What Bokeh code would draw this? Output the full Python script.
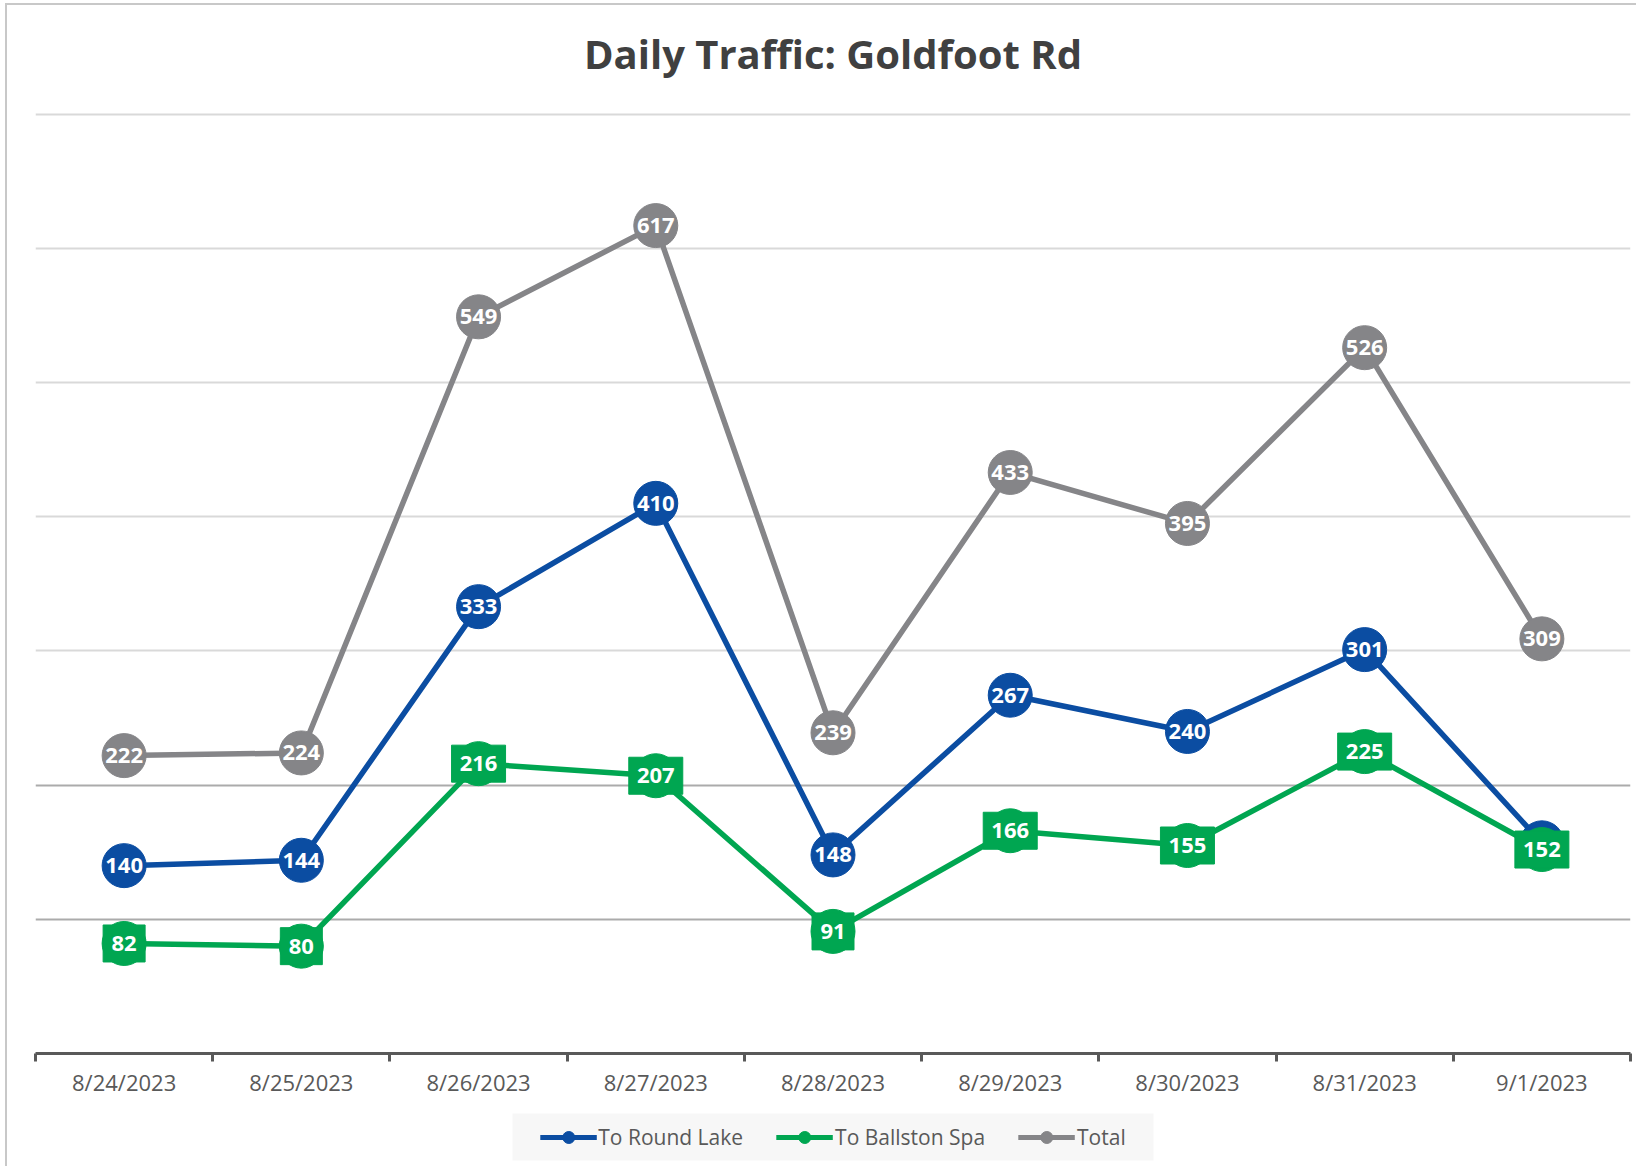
from bokeh.plotting import figure
from bokeh.layouts import column
from bokeh.models import (Range1d, FixedTicker, Grid, Legend, LegendItem,
                          ColumnDataSource, BoxAnnotation, Label)
from bokeh.core.properties import value
from bokeh.embed import file_html
from bokeh.resources import INLINE

dates = ["8/24/2023", "8/25/2023", "8/26/2023", "8/27/2023", "8/28/2023",
         "8/29/2023", "8/30/2023", "8/31/2023", "9/1/2023"]
round_lake = [140, 144, 333, 410, 148, 267, 240, 301, 157]
ballston = [82, 80, 216, 207, 91, 166, 155, 225, 152]
total = [222, 224, 549, 617, 239, 433, 395, 526, 309]
series_names = ["To Round Lake", "To Ballston Spa", "Total"]
title_text = "Daily Traffic: Goldfoot Rd"

BLUE = "#0b4da2"
GREEN = "#00a651"
GRAY = "#858588"
FONT = "Open Sans"

xs = [i + 0.5 for i in range(len(dates))]

OFFX, OFFY = 7, 5          # page offset from the border styles below
W = 1636 - OFFX

# title strip (pixel ranges)
TH = 107 - OFFY
t = figure(width=W, height=TH, output_backend="svg", toolbar_location=None,
           x_range=Range1d(35, 1630), y_range=Range1d(0, TH),
           min_border_left=35 - OFFX, min_border_right=6, min_border_top=0,
           min_border_bottom=0)
t.axis.visible = False
t.grid.visible = False
t.outline_line_color = None
t.add_layout(Label(x=(35 + 1630) / 2, y=TH - (53 - OFFY), text=title_text,
                   text_align="center", text_baseline="alphabetic",
                   text_font=FONT, text_font_style="bold",
                   text_font_size="40px", text_color="#404040"))

H = 1108 - 107
p = figure(width=W, height=H, output_backend="svg", toolbar_location=None,
           x_range=Range1d(0, len(dates)), y_range=Range1d(0, 705),
           min_border_left=35 - OFFX, min_border_right=6, min_border_top=0,
           min_border_bottom=55)
p.outline_line_color = None
p.background_fill_color = "white"
p.border_fill_color = "white"
p.yaxis.visible = False
p.xgrid.visible = False
p.ygrid.visible = False

# gridlines
g1 = Grid(dimension=1, ticker=FixedTicker(ticks=[300, 400, 500, 600, 700]),
          grid_line_color="#d9d9d9", grid_line_width=2)
g2 = Grid(dimension=1, ticker=FixedTicker(ticks=[100, 200]),
          grid_line_color="#ababab", grid_line_width=2)
p.add_layout(g1)
p.add_layout(g2)

ax = p.xaxis[0]
ax.ticker = FixedTicker(ticks=xs, minor_ticks=list(range(len(dates) + 1)))
ax.major_label_overrides = {x: d for x, d in zip(xs, dates)}
ax.major_tick_line_color = None
ax.minor_tick_in = 0
ax.minor_tick_out = 8
ax.minor_tick_line_color = "#595959"
ax.minor_tick_line_width = 3
ax.axis_line_color = "#595959"
ax.axis_line_width = 3
ax.major_label_text_font = FONT
ax.major_label_text_font_size = "22px"
ax.major_label_text_color = "#595959"
ax.major_label_standoff = 5

src = ColumnDataSource(dict(x=xs, rl=round_lake, bs=ballston, tot=total,
                            rl_t=[str(v) for v in round_lake],
                            bs_t=[str(v) for v in ballston],
                            tot_t=[str(v) for v in total],
                            bs_w=[len(str(v)) * 12 + 18 for v in ballston]))

def labels(col, ycol):
    p.text("x", ycol, text=col, source=src, text_align="center",
           text_baseline="middle", text_font=value(FONT), text_font_style="bold",
           text_font_size="22px", text_color="white")

LW = 5.5
# blue series
p.line("x", "rl", source=src, line_color=BLUE, line_width=LW)
p.scatter("x", "rl", source=src, size=44, fill_color=BLUE, line_color=BLUE)
labels("rl_t", "rl")
# green series
p.line("x", "bs", source=src, line_color=GREEN, line_width=LW)
p.scatter("x", "bs", source=src, size=44, fill_color=GREEN, line_color=GREEN)
p.rect("x", "bs", source=src, width="bs_w", height=37, width_units="screen",
       height_units="screen", fill_color=GREEN, line_color=GREEN)
labels("bs_t", "bs")
# gray series
p.line("x", "tot", source=src, line_color=GRAY, line_width=LW)
p.scatter("x", "tot", source=src, size=44, fill_color=GRAY, line_color=GRAY)
labels("tot_t", "tot")

# legend strip (separate figure below the chart); its ranges are in pixels
QH = 58
q = figure(width=W, height=QH, output_backend="svg", toolbar_location=None,
           x_range=Range1d(35, 1630), y_range=Range1d(0, QH),
           min_border_left=35 - OFFX, min_border_right=6, min_border_top=0,
           min_border_bottom=0)
q.axis.visible = False
q.grid.visible = False
q.outline_line_color = None
q.border_fill_color = "white"
q.add_layout(BoxAnnotation(left=512, right=1153, bottom=6, top=53,
                           fill_color="#f7f7f7", fill_alpha=1, line_color=None))
dummy = ColumnDataSource(dict(x=[0], y=[-100]))
items = []
for name, col in zip(series_names, [BLUE, GREEN, GRAY]):
    lr = q.line("x", "y", source=dummy, line_color=col, line_width=5)
    sr = q.scatter("x", "y", source=dummy, size=12, fill_color=col, line_color=col)
    items.append(LegendItem(label=name, renderers=[lr, sr]))

legend = Legend(items=items, orientation="horizontal", location="center",
                glyph_width=57, glyph_height=30, label_standoff=2, spacing=33,
                padding=8, margin=0, border_line_color=None,
                background_fill_alpha=0,
                label_text_font=FONT, label_text_font_size="21px",
                label_text_color="#595959")
q.add_layout(legend, "center")

layout = column(t, p, q, styles={"border-left": "2px solid #c8c8c8",
                                 "border-top": "2px solid #c8c8c8",
                                 "margin-left": "5px", "margin-top": "3px"})
open("out.html", "w").write(file_html(layout, INLINE))
